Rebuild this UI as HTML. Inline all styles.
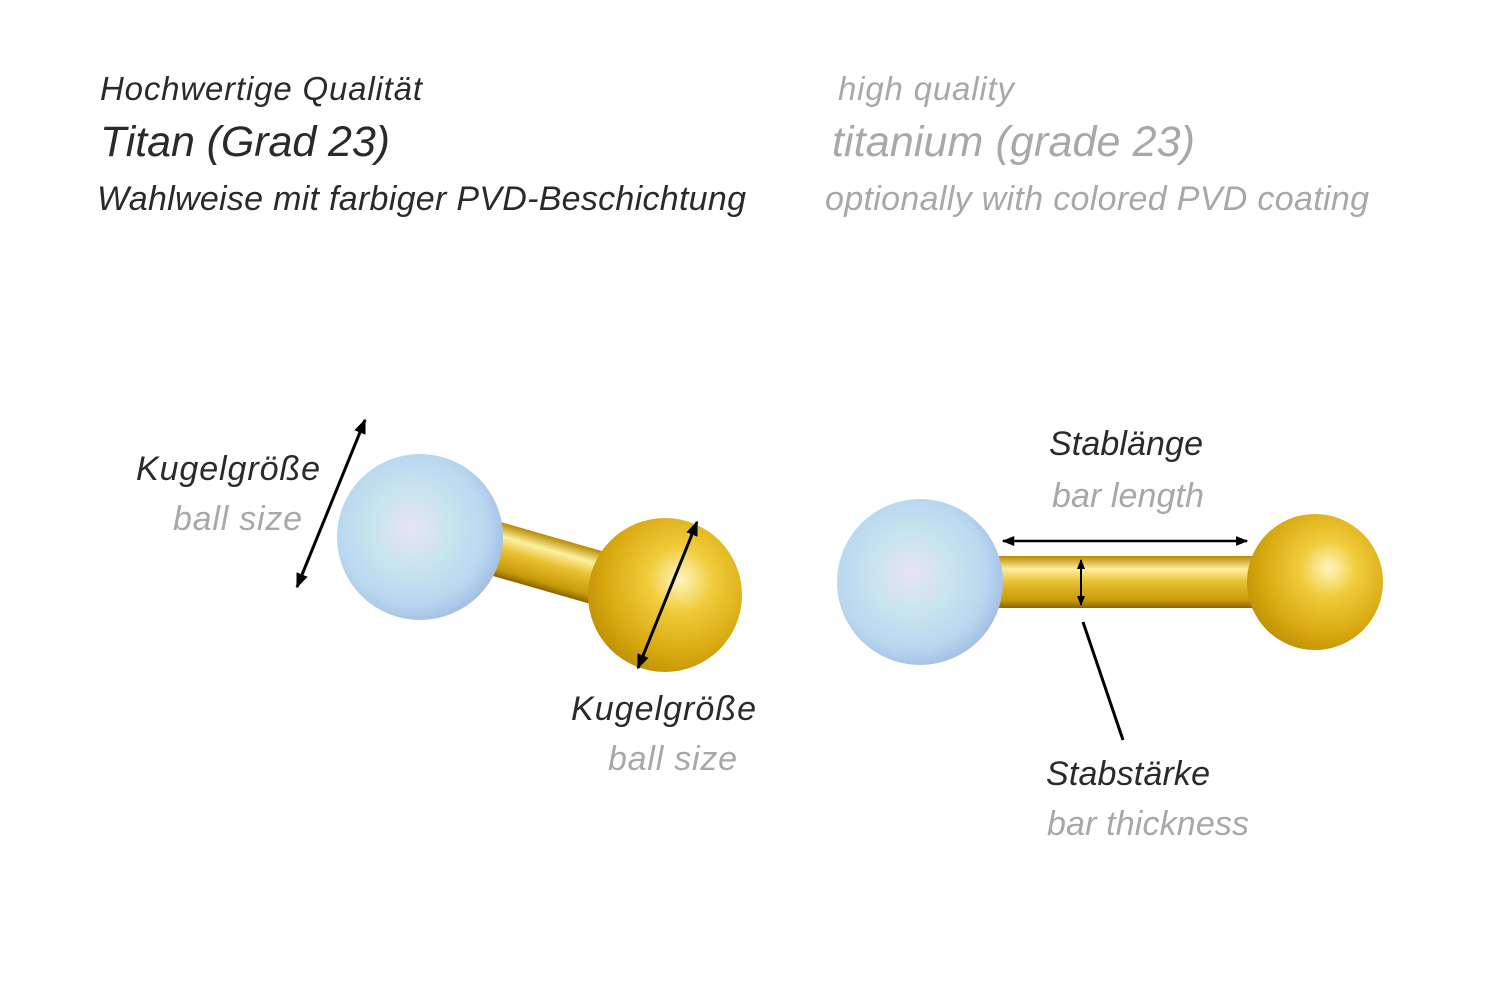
<!DOCTYPE html>
<html><head><meta charset="utf-8"><style>
html,body{margin:0;padding:0;background:#fff}
svg{display:block}
text{font-family:"Liberation Sans",sans-serif;font-style:italic}
.d{fill:#2a2a2a}.g{fill:#a8a8a8}
</style></head><body>
<svg width="1500" height="1001" viewBox="0 0 1500 1001" xmlns="http://www.w3.org/2000/svg">
<defs>
<radialGradient id="opal" cx="0.45" cy="0.45" r="0.6">
<stop offset="0" stop-color="#e8e4f4"/><stop offset="0.4" stop-color="#c8e4ee"/><stop offset="0.75" stop-color="#b8d8f0"/><stop offset="1" stop-color="#a0b8e0"/></radialGradient>
<radialGradient id="gold" cx="0.6" cy="0.4" r="0.7">
<stop offset="0" stop-color="#fff6c0"/><stop offset="0.3" stop-color="#f0cc3a"/><stop offset="0.7" stop-color="#d8a810"/><stop offset="1" stop-color="#b88a00"/></radialGradient>
<linearGradient id="barv" x1="0" y1="0" x2="0" y2="1">
<stop offset="0" stop-color="#b88a00"/><stop offset="0.25" stop-color="#fff0a0"/><stop offset="0.5" stop-color="#e8c030"/><stop offset="0.85" stop-color="#c89a08"/><stop offset="1" stop-color="#8a6400"/></linearGradient>
<marker id="ah" viewBox="0 0 10 10" refX="9" refY="5" markerWidth="5" markerHeight="5" orient="auto-start-reverse"><path d="M0,1 L10,5 L0,9 z" fill="#000"/></marker>
</defs>
<text class="d" x="100" y="100" font-size="33" textLength="322">Hochwertige Qualität</text>
<text class="d" x="100" y="156" font-size="43" textLength="290">Titan (Grad 23)</text>
<text class="d" x="97" y="210" font-size="34" textLength="649">Wahlweise mit farbiger PVD-Beschichtung</text>
<text class="g" x="838" y="100" font-size="33" textLength="176">high quality</text>
<text class="g" x="832" y="156" font-size="43" textLength="363">titanium (grade 23)</text>
<text class="g" x="825" y="210" font-size="34" textLength="544">optionally with colored PVD coating</text>

<g transform="rotate(16 570 570)">
<rect x="480" y="543" width="165" height="54" fill="url(#barv)"/>
</g>
<circle cx="420" cy="537" r="83" fill="url(#opal)"/>
<circle cx="665" cy="595" r="77" fill="url(#gold)"/>
<line x1="365" y1="420" x2="297" y2="587" stroke="#000" stroke-width="3" marker-start="url(#ah)" marker-end="url(#ah)"/>
<line x1="697" y1="522" x2="638" y2="668" stroke="#000" stroke-width="3" marker-start="url(#ah)" marker-end="url(#ah)"/>
<text class="d" x="136" y="480" font-size="34" textLength="184">Kugelgröße</text>
<text class="g" x="173" y="530" font-size="34" textLength="129">ball size</text>
<text class="d" x="571" y="720" font-size="34" textLength="185">Kugelgröße</text>
<text class="g" x="608" y="770" font-size="34" textLength="129">ball size</text>

<rect x="995" y="556" width="260" height="52" fill="url(#barv)"/>
<circle cx="920" cy="582" r="83" fill="url(#opal)"/>
<circle cx="1315" cy="582" r="68" fill="url(#gold)"/>
<line x1="1003" y1="541" x2="1247" y2="541" stroke="#000" stroke-width="2.5" marker-start="url(#ah)" marker-end="url(#ah)"/>
<line x1="1081" y1="560" x2="1081" y2="605" stroke="#000" stroke-width="2" marker-start="url(#ah)" marker-end="url(#ah)"/>
<line x1="1083" y1="622" x2="1123" y2="740" stroke="#000" stroke-width="3"/>
<text class="d" x="1049" y="455" font-size="34" textLength="154">Stablänge</text>
<text class="g" x="1052" y="507" font-size="34" textLength="152">bar length</text>
<text class="d" x="1046" y="785" font-size="34" textLength="164">Stabstärke</text>
<text class="g" x="1047" y="835" font-size="34" textLength="202">bar thickness</text>
</svg>
</body></html>
